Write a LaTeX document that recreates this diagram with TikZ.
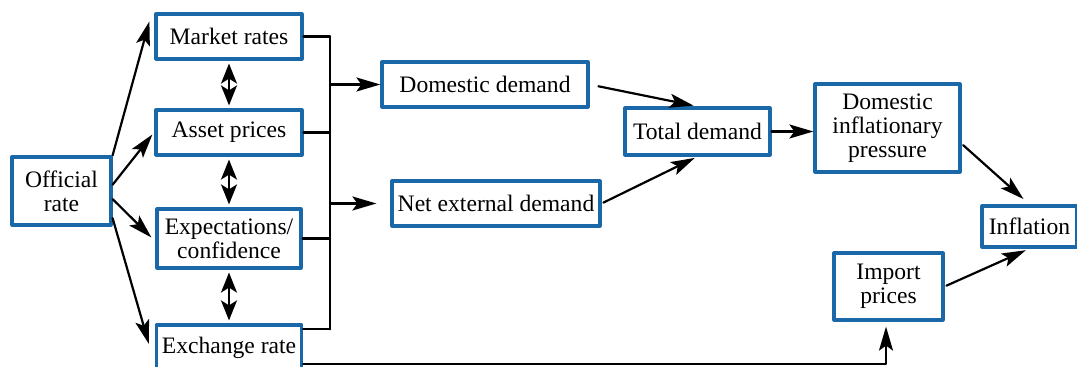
\documentclass[tikz,border=0pt]{standalone}
\usepackage{fontspec}
\setmainfont{Liberation Serif}
\usetikzlibrary{arrows.meta,calc}

\definecolor{boxblue}{HTML}{1A68A8}

\begin{document}
\begin{tikzpicture}[x=0.5pt,y=-0.5pt,line cap=round,line join=round,
		box/.style={draw=boxblue, line width=1.6pt, align=center, inner sep=0pt,
			font=\fontsize{11.8}{12}\selectfont},
		arr/.style={line width=1.1pt, -{Stealth[length=12pt,width=7pt,inset=2.5pt]}},
		dbl/.style={line width=1.1pt, {Stealth[length=10pt,width=8pt,inset=2.5pt]}-{Stealth[length=10pt,width=8pt,inset=2.5pt]}, shorten <=1.5pt, shorten >=1.5pt},
		link/.style={line width=1.1pt}]
			\useasboundingbox (0,0) rectangle (1077,367);
			
			\node[box, minimum width=49.5pt, minimum height=34pt] (off) at (61.5,191) {Official\\rate};
			\node[box, minimum width=73pt, minimum height=22.5pt] (mkt) at (229,36.5) {Market rates};
			\node[box, minimum width=73pt, minimum height=22.5pt] (ast) at (229,132.5) {Asset prices};
			\node[box, minimum width=72pt, minimum height=29.5pt] (exp) at (229,238.5) {Expectations/\\confidence};
			\node[box, minimum width=72.5pt, minimum height=23pt] (exr) at (229,348) {Exchange rate};
			\node[box, minimum width=103pt, minimum height=22.5pt] (dd) at (485,84.5) {Domestic demand};
			\node[box, minimum width=104pt, minimum height=22.5pt] (ned) at (496,203.5) {Net external demand};
			\node[box, minimum width=72.5pt, minimum height=23.5pt] (td) at (697.5,131.5) {Total demand};
			\node[box, minimum width=72.5pt, minimum height=44pt] (dip) at (887.5,128) {Domestic\\inflationary\\pressure};
			\node[box, minimum width=47.5pt, minimum height=20.5pt] (inf) at (1029.5,226.5) {Inflation};
			\node[box, minimum width=54.5pt, minimum height=33.5pt] (imp) at (888.5,286.5) {Import\\prices};
			
			% official rate fans out
			\draw[arr] (off.north east) -- ($(mkt.north west)+(-5,9)$);
			\draw[arr] (off.7) -- ($(ast.west)+(-2,2)$);
			\draw[arr] (off.-9) -- ($(exp.west)+(-4,-1)$);
			\draw[arr] (off.-28) -- ($(exr.west)+(-6,-4)$);
			
			% two-way links down the column
			\draw[dbl] (mkt.south) -- (ast.north);
			\draw[dbl] (ast.south) -- (exp.north);
			\draw[dbl] (exp.south) -- (exr.north);
			
			% collecting bus
			\coordinate (bus) at (330,0);
			\coordinate (exrout) at ($(exr.north east)+(0,6)$);
			\foreach \n in {mkt,ast,exp}{
				\draw[link] (\n.east) -- (\n.east -| bus);}
			\draw[link] (exrout) -- (exrout -| bus);
			\draw[link] (mkt.east -| bus) -- (exrout -| bus);
			\draw[arr] (dd.west -| bus) -- (dd.west);
			\draw[arr, shorten >=7pt] (ned.west -| bus) -- (ned.west);
			
			% demand to inflation
			\draw[arr, shorten <=4.5pt, shorten >=2pt] (dd.east) -- (td.north);
			\draw[arr, shorten <=1pt, shorten >=1.5pt] (ned.east) -- (td.south);
			\draw[arr] (td.east) -- (td.east -| dip.west);
			\draw[arr, shorten <=1pt, shorten >=4pt] (dip.-12) -- (inf.north);
			\draw[arr, shorten <=1pt, shorten >=2pt] (imp.east) -- (inf.south);
			
			% exchange rate feeds import prices
			\coordinate (exrlow) at ($(exr.east)+(0,16)$);
			\draw[arr, shorten >=2.5pt] (exrlow) -| ($(imp.south)+(-2.5,0)$);
		\end{tikzpicture}
\end{document}
